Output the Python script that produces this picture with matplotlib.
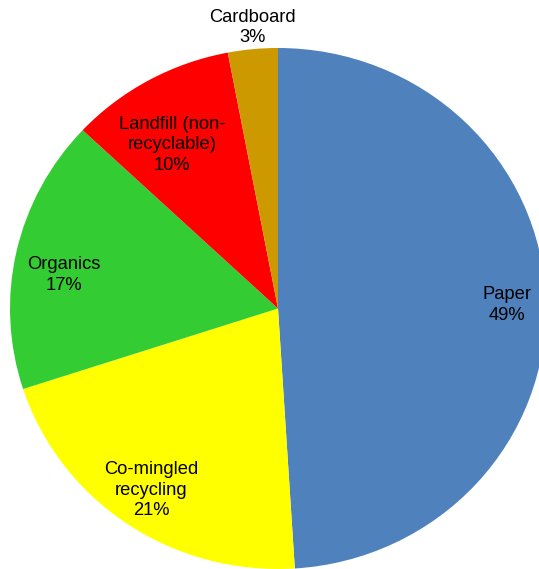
import numpy as np
import matplotlib
matplotlib.use("Agg")
import matplotlib.pyplot as plt

plt.rcParams['font.family'] = ['Liberation Sans', 'DejaVu Sans']

categories = ["Paper", "Co-mingled\nrecycling", "Organics", "Landfill (non-\nrecyclable)", "Cardboard"]
shares = [49, 21, 17, 10, 3]
colors = ["#4F81BD", "#FFFF00", "#33CC33", "#FF0000", "#CC9900"]

# label centres (pie radius units), placed like the original's best-fit labels
label_pos = [(0.854, 0.013), (-0.474, -0.697), (-0.799, 0.129), (-0.396, 0.628), (-0.095, 1.08)]

fig = plt.figure(figsize=(5.39, 5.69), dpi=100)
ax = fig.add_axes([0, 0, 1, 1])

wedges, _ = ax.pie(shares, colors=colors, startangle=90, counterclock=False,
                   wedgeprops=dict(linewidth=0, antialiased=True))

total = sum(shares)
for name, val, (x, y) in zip(categories, shares, label_pos):
    ax.text(x, y, f"{name}\n{round(100 * val / total)}%",
            ha='center', va='center', fontsize=13.2, linespacing=1.25, color='black')

# reference pie is slightly wider than tall
ax.set_aspect('auto')
ax.set_xlim(-278 / 268, (539 - 278) / 268)
ax.set_ylim(-260.5 / 260.5, 308.5 / 260.5)
ax.axis('off')

fig.savefig("out.png", dpi=100)
